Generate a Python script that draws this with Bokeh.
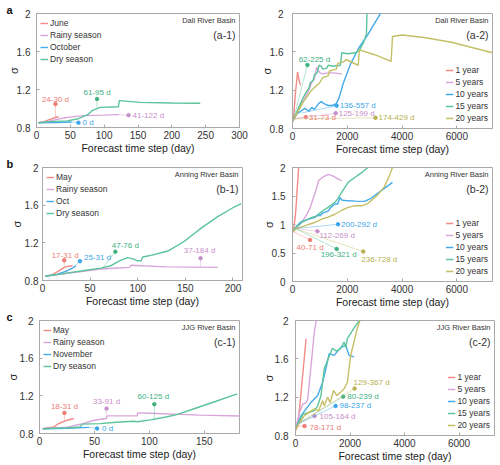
import math
from bokeh.plotting import figure
from bokeh.models import Range1d, FixedTicker, Label, Title
from bokeh.layouts import row, column
from bokeh.embed import file_html
from bokeh.resources import INLINE

# ---------------- axes / labels ----------------
X_TICKS_A1 = [0, 50, 100, 150, 200, 250, 300]
X_TICKS_B1 = [0, 50, 100, 150, 200]
X_TICKS_C1 = [0, 50, 100, 150]
X_TICKS_RIGHT = [0, 2000, 4000, 6000]
Y_TICKS_STD = [0.8, 1.2, 1.6, 2]
Y_LABELS_STD = ["0.8", "1.2", "1.6", "2"]
Y_TICKS_B2 = [0, 0.5, 1, 1.5, 2]
Y_LABELS_B2 = ["0", "0.5", "1", "1.5", "2"]

NAMES_A1 = ["June", "Rainy season", "October", "Dry season"]
NAMES_B1 = ["May", "Rainy season", "Oct", "Dry season"]
NAMES_C1 = ["May", "Rainy season", "November", "Dry season"]
NAMES_RIGHT = ["1 year", "5 years", "10 years", "15 years", "20 years"]

# ---------------- (a-1) Dali, seasons ----------------
a1_june_x = [3, 10, 20, 28, 33]
a1_june_y = [0.85, 0.86, 0.885, 0.905, 0.915]
a1_rainy_x = [3, 20, 40, 55, 70, 100, 122]
a1_rainy_y = [0.85, 0.87, 0.9, 0.915, 0.925, 0.93, 0.935]
a1_oct_x = [3, 30, 52]
a1_oct_y = [0.85, 0.853, 0.858]
a1_dry_x = [3, 20, 45, 60, 76, 82, 94, 121, 122.4, 153, 200, 242]
a1_dry_y = [0.85, 0.862, 0.87, 0.889, 0.935, 0.977, 1.012, 1.019, 1.083, 1.064, 1.058, 1.055]
a1_ann_text = ["24-30 d", "41-122 d", "0 d", "61-95 d"]
a1_ann_series = [0, 1, 2, 3]
a1_ann_x = [28, 136, 62, 89.5]
a1_ann_y = [1.047, 0.93, 0.85, 1.1]
a1_ann_from_x = [28, 122, 52, 89.5]
a1_ann_from_y = [0.905, 0.935, 0.858, 0.99]

# ---------------- (a-2) Dali, return periods ----------------
a2_1y_x = [0, 50, 100, 185, 220, 260, 300]
a2_1y_y = [0.87, 0.95, 1.15, 1.39, 1.33, 1.28, 1.25]
a2_5y_x = [0, 150, 300, 450, 600, 700, 800, 880, 950, 1000, 1100, 1300, 1500, 1800]
a2_5y_y = [0.87, 0.95, 1.05, 1.12, 1.2, 1.28, 1.32, 1.44, 1.40, 1.38, 1.37, 1.38, 1.38, 1.37]
a2_10y_x = [0, 150, 300, 450, 600, 700, 800, 950, 1050, 1150, 1300, 1450, 1600, 1700,
            1850, 2130, 2420, 2750, 3000, 3250]
a2_10y_y = [0.87, 0.95, 0.98, 1.01, 0.98, 1.02, 1.0, 1.06, 1.08, 1.06, 1.04, 1.04, 1.06, 1.12,
            1.27, 1.48, 1.64, 1.78, 1.9, 2.02]
a2_15y_x = [0, 150, 350, 500, 600, 650, 750, 800, 900, 970, 1050, 1100, 1250, 1300, 1500,
            1750, 1800, 2000, 2300, 2450, 2600, 2700, 2720]
a2_15y_y = [0.87, 0.97, 1.1, 1.18, 1.22, 1.28, 1.3, 1.36, 1.38, 1.46, 1.45, 1.42, 1.43, 1.46, 1.45,
            1.46, 1.59, 1.58, 1.59, 1.62, 1.7, 1.79, 2.05]
a2_20y_x = [0, 150, 400, 700, 1000, 1100, 1300, 1350, 1600, 1650, 1900, 1950, 2400, 2440,
            3000, 3600, 3650, 4000, 4800, 5800, 7300]
a2_20y_y = [0.87, 0.95, 1.08, 1.2, 1.28, 1.33, 1.35, 1.4, 1.42, 1.48, 1.5, 1.52, 1.46, 1.62,
            1.57, 1.5, 1.76, 1.775, 1.75, 1.70, 1.59]
a2_ann_text = ["62-225 d", "31-73 d", "136-557 d", "125-199 d", "174-429 d"]
a2_ann_series = [3, 0, 2, 1, 4]
a2_ann_x = [545, 485, 1612, 1576, 3030]
a2_ann_y = [1.463, 0.919, 1.038, 0.96, 0.912]
a2_ann_from_x = [40, 40, 300, 40, 40]
a2_ann_from_y = [0.9, 0.9, 0.96, 0.9, 0.9]

# ---------------- (b-1) Anning, seasons ----------------
b1_may_x = [3, 10, 17.5, 22.8, 28, 31.6]
b1_may_y = [0.845, 0.86, 0.904, 0.939, 0.952, 0.957]
b1_rainy_x = [3, 26, 45, 61, 75, 91, 93, 130, 184]
b1_rainy_y = [0.845, 0.877, 0.9, 0.922, 0.93, 0.939, 0.962, 0.945, 0.939]
b1_oct_x = [3, 15, 25, 32, 35]
b1_oct_y = [0.845, 0.865, 0.9, 0.935, 0.955]
b1_dry_x = [3, 20, 47.4, 61.4, 71.9, 80.7, 89.5, 95, 100, 103.5, 105.3, 115, 131.6, 149,
            166.6, 184, 201.7, 208.7]
b1_dry_y = [0.845, 0.87, 0.911, 0.932, 0.957, 1.009, 1.043, 1.03, 1.009, 1.009, 1.05, 1.07, 1.113,
            1.217, 1.356, 1.478, 1.583, 1.617]
b1_ann_text = ["17-31 d", "25-31 d", "47-76 d", "37-184 d"]
b1_ann_series = [0, 2, 3, 1]
b1_ann_x = [22.8, 39.3, 76.5, 166]
b1_ann_y = [1.015, 1.005, 1.106, 1.037]
b1_ann_from_x = [22.8, 33, 63, 166]
b1_ann_from_y = [0.939, 0.945, 0.93, 0.94]

# ---------------- (b-2) Anning, return periods ----------------
b2_1y_x = [0, 60, 108, 140, 166, 200, 230]
b2_1y_y = [0.87, 0.98, 1.18, 1.38, 1.59, 1.82, 2.06]
b2_5y_x = [0, 150, 347, 527, 648, 768, 888, 948, 1100, 1308, 1489, 1650, 1789]
b2_5y_y = [0.87, 0.95, 1.04, 1.18, 1.3, 1.475, 1.65, 1.77, 1.83, 1.88, 1.85, 1.8, 1.77]
b2_10y_x = [0, 150, 288, 587, 800, 948, 1000, 1100, 1308, 1400, 1549, 1650, 1730, 1800, 1910,
            2300, 2631, 2869, 3229, 3651]
b2_10y_y = [0.87, 0.97, 1.04, 1.096, 1.12, 1.18, 1.15, 1.2, 1.24, 1.3, 1.36, 1.36, 1.475, 1.43, 1.42,
            1.41, 1.405, 1.46, 1.59, 1.74]
b2_15y_x = [0, 150, 350, 708, 900, 1000, 1129, 1300, 1549, 1650, 1789, 2030, 2270, 2500, 2750, 2900]
b2_15y_y = [0.87, 0.96, 1.04, 1.125, 1.15, 1.2, 1.25, 1.3, 1.39, 1.45, 1.56, 1.74, 1.825, 1.9, 2.0, 2.05]
b2_20y_x = [0, 150, 468, 829, 1069, 1300, 1549, 1800, 2030, 2300, 2545, 2750, 3110, 3351, 3532, 3651]
b2_20y_y = [0.87, 0.93, 0.98, 1.04, 1.096, 1.13, 1.18, 1.25, 1.3, 1.33, 1.33, 1.37, 1.52, 1.66, 1.85, 2.0]
b2_ann_text = ["200-292 d", "112-269 d", "40-71 d", "196-321 d", "236-728 d"]
b2_ann_series = [2, 1, 0, 3, 4]
b2_ann_x = [1661, 909, 642, 1612, 2582]
b2_ann_y = [1.003, 0.88, 0.729, 0.571, 0.525]
b2_ann_from_x = [150, 150, 50, 150, 150]
b2_ann_from_y = [0.93, 0.93, 0.87, 0.92, 0.92]

# ---------------- (c-1) JJG, seasons ----------------
c1_may_x = [3, 13, 17.6, 25.2, 31.2]
c1_may_y = [0.85, 0.871, 0.906, 0.941, 0.959]
c1_rainy_x = [3, 25.2, 40.3, 49.4, 60.9, 61.5, 88.8, 89.4, 100, 146.4, 182.7]
c1_rainy_y = [0.85, 0.868, 0.906, 0.941, 0.959, 0.987, 0.987, 1.019, 1.015, 0.995, 0.985]
c1_nov_x = [3, 25, 45]
c1_nov_y = [0.85, 0.855, 0.865]
c1_dry_x = [3, 25, 37, 39, 55, 70, 86, 89, 101, 115, 125, 140, 160, 180]
c1_dry_y = [0.85, 0.86, 0.87, 0.9, 0.905, 0.92, 0.93, 0.925, 0.945, 0.975, 1.0, 1.06, 1.14, 1.22]
c1_ann_text = ["18-31 d", "33-91 d", "60-125 d", "0 d"]
c1_ann_series = [0, 1, 3, 2]
c1_ann_x = [22.7, 61, 104.5, 52.4]
c1_ann_y = [1.019, 1.065, 1.111, 0.853]
c1_ann_from_x = [22.7, 61, 104.5, 45]
c1_ann_from_y = [0.924, 0.959, 0.952, 0.865]

# ---------------- (c-2) JJG, return periods ----------------
c2_1y_x = [0, 87, 389]
c2_1y_y = [0.85, 0.9, 1.81]
c2_5y_x = [0, 146, 269, 389, 451, 509, 571, 633, 691, 789]
c2_5y_y = [0.87, 1.04, 1.13, 1.14, 1.18, 1.356, 1.53, 1.71, 1.88, 2.05]
c2_10y_x = [0, 207, 389, 571, 814, 996, 1116, 1236, 1418, 1662, 1844, 1963, 2145]
c2_10y_y = [0.87, 1.007, 1.077, 1.146, 1.217, 1.356, 1.497, 1.654, 1.636, 1.72, 1.74, 1.636, 1.62]
c2_15y_x = [0, 269, 691, 814, 935, 1055, 1200, 1359, 1500, 1662, 1782, 1844, 1904, 2145, 2389]
c2_15y_y = [0.87, 1.02, 1.06, 1.11, 1.217, 1.497, 1.6, 1.71, 1.68, 1.71, 1.776, 1.72, 1.81, 1.92, 2.02]
c2_20y_x = [0, 327, 691, 850, 996, 1055, 1178, 1273, 1396, 1516, 1650, 1782, 1904, 1963, 2025,
            2145, 2268, 2389]
c2_20y_y = [0.87, 1.007, 1.077, 1.06, 1.164, 1.11, 1.199, 1.146, 1.27, 1.217, 1.25, 1.287, 1.356,
            1.497, 1.636, 1.776, 1.92, 2.02]
c2_ann_text = ["78-171 d", "105-164 d", "98-237 d", "80-239 d", "129-367 d"]
c2_ann_series = [0, 1, 2, 3, 4]
c2_ann_x = [331, 698, 1469, 1751, 2167]
c2_ann_y = [0.898, 1.003, 1.108, 1.206, 1.29]
c2_ann_from_x = [80, 80, 80, 80, 80]
c2_ann_from_y = [0.9, 0.92, 0.92, 0.92, 0.92]

# ---------------- styling ----------------
FONT = "Liberation Sans"
AX = "#A9A9A9"
LINE_COLORS = ["#F28B86", "#D9A6DB", "#45AAEA", "#5BC49A", "#C5BF66"]
TEXT_COLORS = ["#EE7C74", "#C78FCA", "#3AA6EA", "#3EB17F", "#B7AF4E"]

# label placement (align, dx px, dy px up) per annotation
A1_PLACE = [("center", 0, 5), ("left", 4, 0), ("left", 4, 0), ("center", 0, 7)]
A2_PLACE = [("center", 7, 5), ("left", 3, 0), ("left", 3, 0), ("left", 3, 0), ("left", 3, 0)]
B1_PLACE = [("center", 1, 5), ("left", 4, 4), ("center", 10, 6), ("center", -1, 8)]
B2_PLACE = [("left", 3, 0), ("left", 2, -4), ("center", 0, -8), ("center", 2, -6), ("left", -2, -8)]
C1_PLACE = [("center", 0, 6), ("center", 0, 7), ("center", -1, 8), ("left", 5, 0)]
C2_PLACE = [("left", 5, -1), ("left", 5, 0), ("left", 4, 0), ("left", 4, 0), ("left", -1, 6)]


def build(frame, borders, xr, yr, xticks, yticks, ylabels, names, xs, ys,
          ann, place, basin, tag, letter, sigma_standoff, legend_loc, ystand):
    fw, fh = frame
    bl, br, bt, bb = borders
    p = figure(frame_width=fw, frame_height=fh, x_range=Range1d(*xr), y_range=Range1d(*yr),
               output_backend="svg", toolbar_location=None,
               min_border_left=bl, min_border_right=br,
               min_border_top=bt, min_border_bottom=bb)
    p.xgrid.visible = False
    p.ygrid.visible = False
    p.outline_line_color = AX
    p.outline_line_width = 1
    p.xaxis.ticker = FixedTicker(ticks=xticks)
    p.yaxis.ticker = FixedTicker(ticks=yticks)
    p.yaxis.major_label_overrides = {t: s for t, s in zip(yticks, ylabels)}
    for ax in (p.xaxis[0], p.yaxis[0]):
        ax.axis_line_color = AX
        ax.major_tick_line_color = AX
        ax.major_tick_in = 3
        ax.major_tick_out = 0
        ax.minor_tick_line_color = None
        ax.minor_tick_in = 0
        ax.minor_tick_out = 0
        ax.major_label_text_font = FONT
        ax.major_label_text_font_size = "10px"
        ax.major_label_text_color = "#333333"
        ax.axis_label_text_font = FONT
        ax.axis_label_text_font_style = "normal"
        ax.axis_label_text_color = "#222222"
    p.xaxis.major_label_standoff = 3
    p.yaxis.major_label_standoff = ystand
    p.xaxis.axis_label = "Forecast time step (day)"
    p.xaxis.axis_label_text_font_size = "10.5px"
    p.xaxis.axis_label_standoff = 0
    p.yaxis.axis_label = "σ"
    p.yaxis.axis_label_text_font_size = "11px"
    p.yaxis.axis_label_standoff = sigma_standoff

    for i, (name, x, y) in enumerate(zip(names, xs, ys)):
        p.line(x, y, color=LINE_COLORS[i], line_width=1.4, legend_label=name)

    texts, sidx, axs, ays, fxs, fys = ann
    for t, si, ax_, ay_, fx, fy, (al, dx, dy) in zip(texts, sidx, axs, ays, fxs, fys, place):
        p.line([fx, ax_], [fy, ay_], color=LINE_COLORS[si], line_alpha=0.45, line_width=1)
        p.scatter([ax_], [ay_], size=3.5, color=TEXT_COLORS[si])
        p.add_layout(Label(x=ax_, y=ay_, x_offset=dx, y_offset=dy, text=t,
                           text_align=al, text_baseline="middle", text_font=FONT,
                           text_font_size="8px", text_color=TEXT_COLORS[si]))

    lg = p.legend[0]
    lg.location = legend_loc
    lg.margin = 3
    lg.padding = 1
    lg.spacing = 0
    lg.glyph_width = 8
    lg.glyph_height = 12
    lg.label_height = 12
    lg.label_standoff = 2
    lg.label_text_font = FONT
    lg.label_text_font_size = "8.5px"
    lg.label_text_color = "#333333"
    lg.background_fill_alpha = 0
    lg.border_line_alpha = 0

    p.add_layout(Label(x=xr[1], y=yr[1], x_offset=-4, y_offset=-7, text=basin,
                       text_align="right", text_baseline="middle", text_font=FONT,
                       text_font_size="7.5px", text_color="#333333"))
    p.add_layout(Label(x=xr[1], y=yr[1], x_offset=-4, y_offset=-21, text=tag,
                       text_align="right", text_baseline="middle", text_font=FONT,
                       text_font_size="10.5px", text_color="#333333"))
    if letter:
        # panel letter in the top side panel, shifted left over the y-axis area
        p.add_layout(Title(text=letter, align="left", offset=-(bl - 6), vertical_align="bottom",
                           standoff=-4, text_font=FONT, text_font_style="bold",
                           text_font_size="11px", text_color="#111111"), "above")
    return p


# row 1: height 156, row 2: 152, row 3: 155 ; left column 250 wide, right column 248 wide
pa1 = build((203, 114), (36, 11, 13, 29), (0, 300), (0.8, 2), X_TICKS_A1, Y_TICKS_STD, Y_LABELS_STD,
            NAMES_A1, [a1_june_x, a1_rainy_x, a1_oct_x, a1_dry_x],
            [a1_june_y, a1_rainy_y, a1_oct_y, a1_dry_y],
            (a1_ann_text, a1_ann_series, a1_ann_x, a1_ann_y, a1_ann_from_x, a1_ann_from_y),
            A1_PLACE, "Dali River Basin", "(a-1)", "a", -6, "top_left", 6)
pa2 = build((200, 115), (42, 6, 12, 29), (0, 7300), (0.8, 2), X_TICKS_RIGHT, Y_TICKS_STD, Y_LABELS_STD,
            NAMES_RIGHT, [a2_1y_x, a2_5y_x, a2_10y_x, a2_15y_x, a2_20y_x],
            [a2_1y_y, a2_5y_y, a2_10y_y, a2_15y_y, a2_20y_y],
            (a2_ann_text, a2_ann_series, a2_ann_x, a2_ann_y, a2_ann_from_x, a2_ann_from_y),
            A2_PLACE, "Dali River Basin", "(a-2)", None, -6, "bottom_right", 9)
pb1 = build((200, 113), (42, 8, 11, 28), (0, 210), (0.8, 2), X_TICKS_B1, Y_TICKS_STD, Y_LABELS_STD,
            NAMES_B1, [b1_may_x, b1_rainy_x, b1_oct_x, b1_dry_x],
            [b1_may_y, b1_rainy_y, b1_oct_y, b1_dry_y],
            (b1_ann_text, b1_ann_series, b1_ann_x, b1_ann_y, b1_ann_from_x, b1_ann_from_y),
            B1_PLACE, "Anning River Basin", "(b-1)", "b", -1, "top_left", 4)
pb2 = build((200, 114), (42, 6, 8, 30), (0, 7300), (0, 2), X_TICKS_RIGHT, Y_TICKS_B2, Y_LABELS_B2,
            NAMES_RIGHT, [b2_1y_x, b2_5y_x, b2_10y_x, b2_15y_x, b2_20y_x],
            [b2_1y_y, b2_5y_y, b2_10y_y, b2_15y_y, b2_20y_y],
            (b2_ann_text, b2_ann_series, b2_ann_x, b2_ann_y, b2_ann_from_x, b2_ann_from_y),
            B2_PLACE, "Anning River Basin", "(b-2)", None, -6, "bottom_right", 7)
pc1 = build((200, 113), (39, 11, 11, 31), (0, 182), (0.8, 2), X_TICKS_C1, Y_TICKS_STD, Y_LABELS_STD,
            NAMES_C1, [c1_may_x, c1_rainy_x, c1_nov_x, c1_dry_x],
            [c1_may_y, c1_rainy_y, c1_nov_y, c1_dry_y],
            (c1_ann_text, c1_ann_series, c1_ann_x, c1_ann_y, c1_ann_from_x, c1_ann_from_y),
            C1_PLACE, "JJG River Basin", "(c-1)", "c", -2, "top_left", 6)
pc2 = build((199, 115), (45, 4, 9, 31), (0, 7300), (0.8, 2), X_TICKS_RIGHT, Y_TICKS_STD, Y_LABELS_STD,
            NAMES_RIGHT, [c2_1y_x, c2_5y_x, c2_10y_x, c2_15y_x, c2_20y_x],
            [c2_1y_y, c2_5y_y, c2_10y_y, c2_15y_y, c2_20y_y],
            (c2_ann_text, c2_ann_series, c2_ann_x, c2_ann_y, c2_ann_from_x, c2_ann_from_y),
            C2_PLACE, "JJG River Basin", "(c-2)", None, -3, "bottom_right", 7)

layout = column(row(pa1, pa2), row(pb1, pb2), row(pc1, pc2))
open("out.html", "w").write(file_html(layout, INLINE))
